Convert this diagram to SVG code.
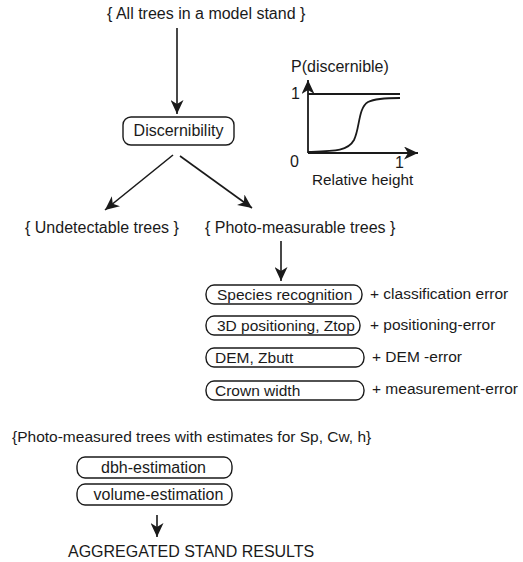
<svg xmlns="http://www.w3.org/2000/svg" width="523" height="562" viewBox="0 0 523 562">
<style>
text{font-family:"Liberation Sans",Arial,sans-serif;font-size:16px;fill:#1a1a1a}
.s{font-size:15.5px}
.box{fill:#fff;stroke:#1a1a1a;stroke-width:1.4}
.ln{fill:none;stroke:#1a1a1a;stroke-width:1.6}
.ax{fill:none;stroke:#1a1a1a;stroke-width:1.8}
.c{text-anchor:middle}
</style>
<defs>
<marker id="ah" markerUnits="userSpaceOnUse" markerWidth="15" markerHeight="13" refX="14" refY="6.5" orient="auto">
<path d="M0,0 L14,6.5 L0,13 L4,6.5 Z" fill="#1a1a1a"/>
</marker>
</defs>
<rect width="523" height="562" fill="#fff"/>
<g id="connectors">
<line class="ln" x1="177" y1="28" x2="177" y2="114" marker-end="url(#ah)"/>
<line class="ln" x1="173" y1="155" x2="105" y2="210" marker-end="url(#ah)"/>
<line class="ln" x1="180" y1="156" x2="252" y2="208" marker-end="url(#ah)"/>
<line class="ln" x1="281" y1="241" x2="281" y2="281" marker-end="url(#ah)"/>
<line class="ln" x1="157" y1="515" x2="157" y2="537" marker-end="url(#ah)"/>
</g>
<g id="all-trees"><text x="107" y="19">{ All trees in a model stand }</text></g>
<g id="discernibility">
<rect class="box" x="123" y="117" width="111" height="28" rx="8" ry="8"/>
<text class="c" x="178.5" y="136">Discernibility</text>
</g>
<g id="graph">
<text x="291" y="72">P(discernible)</text>
<line class="ax" x1="308" y1="153" x2="308" y2="80" marker-end="url(#ah)"/>
<line class="ax" x1="308" y1="153" x2="418" y2="153" marker-end="url(#ah)"/>
<line class="ax" x1="308" y1="94" x2="400" y2="94"/>
<path class="ax" d="M308,152 C335,151 348,151 354,140 C360,128 358,108 368,102 C376,98 390,98 400,98"/>
<text x="291" y="99">1</text>
<text x="290" y="167">0</text>
<text x="395" y="168">1</text>
<text x="312" y="185" style="font-size:15.3px">Relative height</text>
</g>
<g id="undetectable"><text x="25" y="233">{ Undetectable trees }</text></g>
<g id="photo-measurable"><text x="205" y="233">{ Photo-measurable trees }</text></g>
<g id="species">
<rect class="box" x="206" y="285" width="156" height="19" rx="8" ry="9"/>
<text class="s" x="217" y="299.5">Species recognition</text>
<text class="s" x="370" y="299">+ classification error</text>
</g>
<g id="positioning">
<rect class="box" x="206" y="316" width="154" height="19" rx="8" ry="9"/>
<text class="s" x="217" y="330.5">3D positioning, Ztop</text>
<text class="s" x="370" y="329.5">+ positioning-error</text>
</g>
<g id="dem">
<rect class="box" x="206" y="348" width="158" height="19" rx="8" ry="9"/>
<text class="s" x="215" y="362.5">DEM, Zbutt</text>
<text class="s" x="372" y="362">+ DEM -error</text>
</g>
<g id="crown">
<rect class="box" x="206" y="381" width="158" height="19" rx="8" ry="9"/>
<text class="s" x="215" y="395.5">Crown width</text>
<text class="s" x="372" y="393.5">+ measurement-error</text>
</g>
<g id="photo-measured"><text class="s" x="12" y="442">{Photo-measured trees with estimates for Sp, Cw, h}</text></g>
<g id="dbh">
<rect class="box" x="77" y="457" width="155" height="21" rx="8" ry="9"/>
<text class="c" x="153.5" y="472.5">dbh-estimation</text>
</g>
<g id="volume">
<rect class="box" x="77" y="484" width="155" height="21" rx="8" ry="9"/>
<text class="c" x="158.5" y="499.5">volume-estimation</text>
</g>
<g id="aggregated"><text x="68" y="557">AGGREGATED STAND RESULTS</text></g>
</svg>
